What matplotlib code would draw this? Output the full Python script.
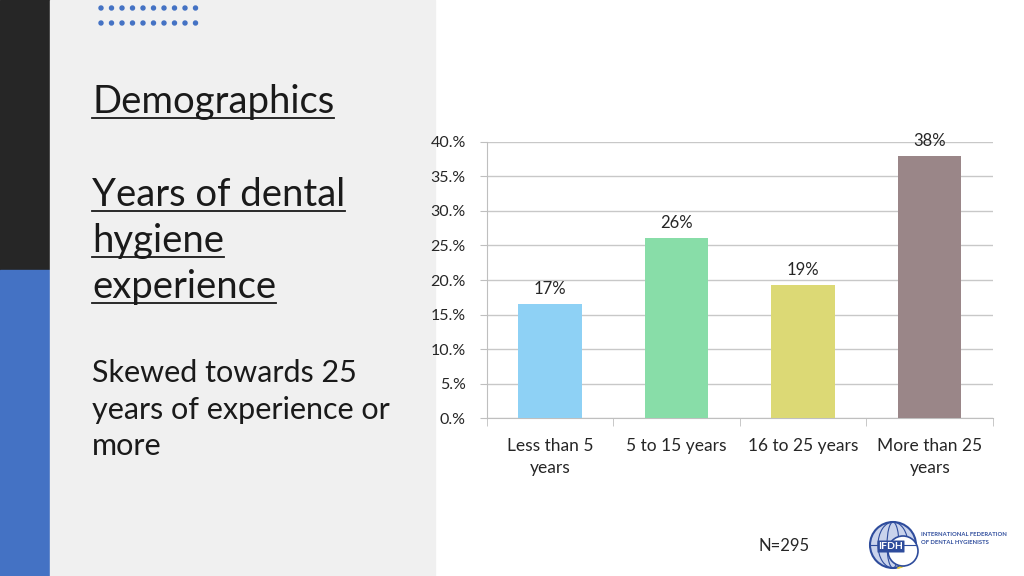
import numpy as np
import matplotlib.pyplot as plt
from matplotlib.patches import Rectangle, Circle, Ellipse, Arc, FancyBboxPatch
from matplotlib.lines import Line2D

# -------------------------------
# Data
# -------------------------------
categories = ["Less than 5\nyears", "5 to 15 years", "16 to 25 years", "More than 25\nyears"]
shares = [16.6, 26.1, 19.3, 38.0]          # percent of respondents
bar_labels = ["17%", "26%", "19%", "38%"]
bar_colors = ["#8ED1F5", "#88DDA8", "#DCD975", "#9A8688"]
y_ticks = [0, 5, 10, 15, 20, 25, 30, 35, 40]
y_tick_labels = [f"{v}.%" for v in y_ticks]

W, H = 1024, 576
plt.rcParams['font.family'] = ['Lato', 'DejaVu Sans']

fig = plt.figure(figsize=(W / 100, H / 100), dpi=100)
fig.patch.set_facecolor("white")


def px(x, y):
    """pixel coords (top-left origin) -> figure fraction"""
    return x / W, 1 - y / H


# -------------------------------
# Slide decoration (left panel)
# -------------------------------
fig.add_artist(Rectangle((0, 0), 50 / W, 1, transform=fig.transFigure,
                         color="#262626", zorder=0))
fig.add_artist(Rectangle((0, 0), 50 / W, 1 - 270 / H, transform=fig.transFigure,
                         color="#4472C4", zorder=0))
fig.add_artist(Rectangle((50 / W, 0), 385 / W, 1, transform=fig.transFigure,
                         color="#F0F0F0", zorder=0))

for row_y in (8, 23):
    for i in range(10):
        cx, cy = px(101 + i * 10.5, row_y)
        fig.add_artist(Ellipse((cx, cy), 4 / W, 4 / H, transform=fig.transFigure,
                               color="#4472C4", zorder=1))

title_lines = [("Demographics", 113), ("Years of dental", 206),
               ("hygiene", 252), ("experience", 298)]
title_texts = []
for txt, base in title_lines:
    x, y = px(92, base)
    t = fig.text(x, y, txt, fontsize=27.5, color="#1a1a1a", va="baseline",
                 ha="left", fontweight="normal")
    title_texts.append((t, base))

for txt, base in [("Skewed towards 25", 382), ("years of experience or", 419),
                  ("more", 455)]:
    x, y = px(92, base)
    fig.text(x, y, txt, fontsize=22, color="#1a1a1a", va="baseline", ha="left",
             fontweight="normal")

# -------------------------------
# Bar chart
# -------------------------------
left, top, right, bottom = 486.7, 141.7, 993, 418.3
ax = fig.add_axes([left / W, 1 - bottom / H, (right - left) / W, (bottom - top) / H])
x = np.arange(len(categories))
bars = ax.bar(x, shares, width=0.5, color=bar_colors, zorder=3)
ax.set_xlim(-0.5, len(categories) - 0.5)
ax.set_ylim(0, 40)
ax.set_yticks(y_ticks)
ax.set_yticklabels(y_tick_labels, fontsize=11.5, color="#262626")
ax.yaxis.grid(True, color="#C8C8C8", linewidth=1, zorder=0)
ax.tick_params(axis="y", length=5, color="#BFBFBF", pad=10)
ax.set_xticks(x)
ax.set_xticklabels(categories, fontsize=12.5, color="#262626", linespacing=1.45)
ax.tick_params(axis="x", length=0, pad=14)
ax.set_xticks(np.arange(len(categories) + 1) - 0.5, minor=True)
ax.tick_params(axis="x", which="minor", length=6, color="#BFBFBF")
for s in ["top", "right"]:
    ax.spines[s].set_visible(False)
ax.spines["left"].set_color("#BFBFBF")
ax.spines["bottom"].set_color("#BFBFBF")
ax.set_facecolor("none")
for b, lab in zip(bars, bar_labels):
    ax.annotate(lab, (b.get_x() + b.get_width() / 2, b.get_height()),
                xytext=(0, 5), textcoords="offset points", ha="center",
                va="bottom", fontsize=12, color="#262626")

# -------------------------------
# Footer: N and logo
# -------------------------------
x0, y0 = px(784, 546)
fig.text(x0, y0, "N=295", fontsize=12, ha="center", va="center", color="#262626")

lax = fig.add_axes([860 / W, 1 - 576 / H, 164 / W, 60 / H])
lax.set_xlim(860, 1024)
lax.set_ylim(576, 516)
lax.set_aspect("equal")
lax.axis("off")
lax.add_patch(Circle((893, 545), 23, facecolor="#C9D3EC", edgecolor="#2E4C9C", lw=1.5))
lax.add_patch(Arc((893, 545), 46, 46, theta1=20, theta2=80, color="#F2D22E", lw=2))
for w in (12, 30):
    lax.add_patch(Ellipse((893, 545), w, 46, fill=False, edgecolor="#2E4C9C", lw=0.8))
lax.plot([870, 916], [545, 545], color="#2E4C9C", lw=0.8)
lax.add_patch(Circle((903, 551), 15, facecolor="white", edgecolor="#2E4C9C", lw=1.2))
lax.add_patch(FancyBboxPatch((878, 541), 26, 11, boxstyle="round,pad=0.5",
                             facecolor="#2E4C9C", edgecolor="none"))
lax.text(891, 546.8, "IFDH", color="white", fontsize=7.5, fontweight="bold",
         ha="center", va="center")
lax.text(921, 535, "INTERNATIONAL FEDERATION", color="#2E4C9C", fontsize=4.2,
         fontweight="bold", ha="left", va="center")
lax.text(921, 542.5, "OF DENTAL HYGIENISTS", color="#2E4C9C", fontsize=4.2,
         fontweight="bold", ha="left", va="center")

# underline title lines
fig.canvas.draw()
r = fig.canvas.get_renderer()
for t, base in title_texts:
    bb = t.get_window_extent(r)
    uy = 1 - (base + 5) / H
    fig.add_artist(Line2D([bb.x0 / W, bb.x1 / W], [uy, uy], transform=fig.transFigure,
                          color="#1a1a1a", lw=1.3))

fig.savefig("out.png", dpi=100, facecolor=fig.get_facecolor())
